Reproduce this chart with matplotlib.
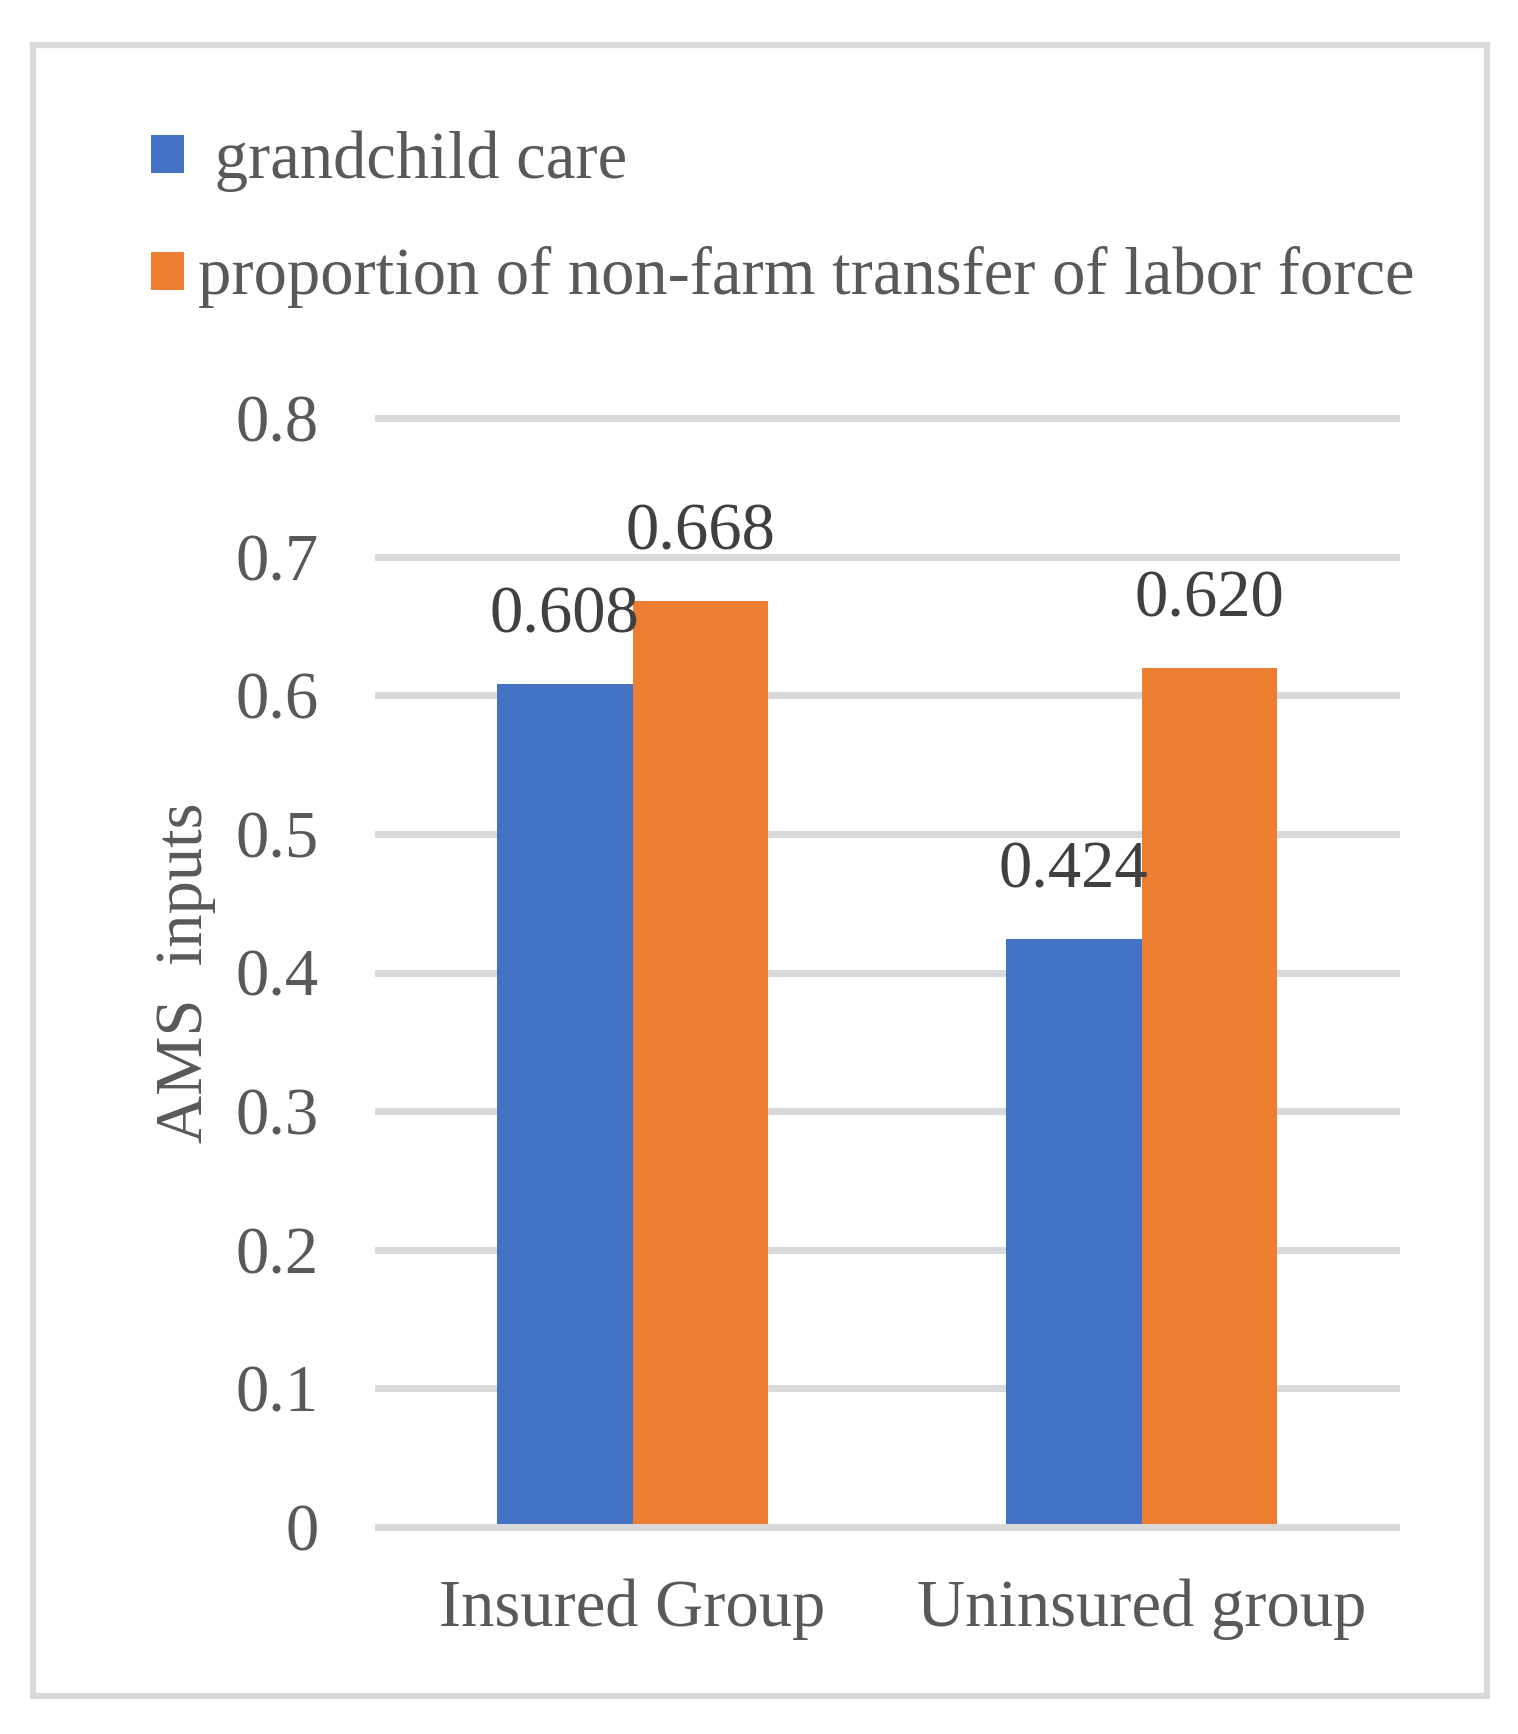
import matplotlib.pyplot as plt
from matplotlib.patches import Rectangle
import numpy as np

groups = ['Insured Group', 'Uninsured group']
series_names = [' grandchild care', 'proportion of non-farm transfer of labor force']
grandchild = [0.608, 0.424]
nonfarm = [0.668, 0.620]
value_labels = [['0.608', '0.424'], ['0.668', '0.620']]
y_ticks = [0, 0.1, 0.2, 0.3, 0.4, 0.5, 0.6, 0.7, 0.8]
y_tick_labels = ['0', '0.1', '0.2', '0.3', '0.4', '0.5', '0.6', '0.7', '0.8']

BLUE = '#4472c4'
ORANGE = '#ed7d31'
GRID = '#d9d9d9'
TXT = '#595959'
LBL = '#404040'
FS = 48

plt.rcParams['font.family'] = ['Liberation Serif', 'DejaVu Serif']

fig = plt.figure(figsize=(15.18, 17.34), dpi=100)
ax = fig.add_axes([378 / 1518, 1 - 1527 / 1734, 1018 / 1518, 1109 / 1734])

x = np.arange(len(groups))
w = 0.267
b1 = ax.bar(x - w / 2, grandchild, w, color=BLUE, label=series_names[0], zorder=2)
b2 = ax.bar(x + w / 2, nonfarm, w, color=ORANGE, label=series_names[1], zorder=2)

# value labels above each bar
for bars, labs in zip([b1, b2], value_labels):
    for rect, lab in zip(bars, labs):
        ax.annotate(lab, (rect.get_x() + rect.get_width() / 2, rect.get_height()),
                    xytext=(0, 37), textcoords='offset points',
                    ha='center', va='baseline', fontsize=FS, color=LBL)

ax.set_xlim(-0.5, 1.5)
ax.set_ylim(0, 0.8)
ax.set_yticks(y_ticks)
ax.set_yticklabels(y_tick_labels)
ax.set_xticks(x)
ax.set_xticklabels(groups)
ax.tick_params(axis='both', length=0, labelsize=FS, labelcolor=TXT)
ax.tick_params(axis='y', pad=43)
ax.tick_params(axis='x', pad=37)

ax.grid(axis='y', color=GRID, linewidth=5)
ax.set_axisbelow(True)
for ln in ax.get_ygridlines():
    ln.set_clip_on(False)
for s in ['top', 'right', 'left']:
    ax.spines[s].set_visible(False)
ax.spines['bottom'].set_color(GRID)
ax.spines['bottom'].set_linewidth(5)
ax.spines['bottom'].set_zorder(3)

ax.set_ylabel('AMS  inputs', fontsize=FS, color=TXT, labelpad=14)

fig.legend(handles=[b1, b2], loc='upper left', bbox_to_anchor=(151 / 1518, 1 - 130 / 1734),
           frameon=False, fontsize=FS, labelcolor=TXT,
           handlelength=0.5, handleheight=0.5, handletextpad=0.2,
           borderpad=0, borderaxespad=0, labelspacing=0.82)

# outer chart border
fig.patches.append(Rectangle((32.5 / 1518, 1 - 1695.5 / 1734), 1454.5 / 1518, 1650.5 / 1734,
                             transform=fig.transFigure, fill=False,
                             edgecolor=GRID, linewidth=4.5))

fig.savefig('out.png', dpi=100)
